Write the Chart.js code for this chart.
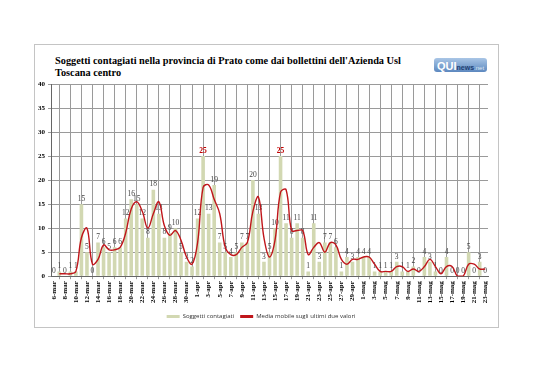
<!DOCTYPE html>
<html>
<head>
<meta charset="utf-8">
<script src="https://cdn.jsdelivr.net/npm/chart.js@4.4.1/dist/chart.umd.min.js"></script>
<style>
  html, body { margin: 0; padding: 0; background: #fff; }
  body { width: 538px; height: 380px; position: relative; overflow: hidden; }
  #frame { position: absolute; left: 34px; top: 44px; width: 463px; height: 282px; border: 1px solid #c4c4c4; }
  #title { position: absolute; left: 55px; top: 55px; font: bold 10.3px "Liberation Serif", serif; line-height: 11.5px; color: #000; white-space: nowrap; }
  #logo { position: absolute; left: 434px; top: 58px; width: 53px; height: 14px; border-radius: 3px;
          background: linear-gradient(#a9c6e6, #5c88bf); font-family: "Liberation Sans", sans-serif; line-height: 14px; white-space: nowrap; }
  #logo .q { color: #fff; font-weight: bold; font-size: 11px; margin-left: 3px; }
  #logo .n { color: #1d3f73; font-weight: bold; font-size: 7px; }
  #logo .t { color: #dfe9f5; font-size: 6px; }
  canvas { position: absolute; left: 0; top: 0; }
</style>
</head>
<body>
<div id="frame"></div>
<div id="title">Soggetti contagiati nella provincia di Prato come dai bollettini dell'Azienda Usl<br>Toscana centro</div>
<div id="logo"><span class="q">QUI</span><span class="n">news</span><span class="t">.net</span></div>
<canvas id="chart" width="538" height="380"></canvas>
<script>
const days = [
  '6-mar','7-mar','8-mar','9-mar','10-mar','11-mar','12-mar','13-mar','14-mar','15-mar',
  '16-mar','17-mar','18-mar','19-mar','20-mar','21-mar','22-mar','23-mar','24-mar','25-mar',
  '26-mar','27-mar','28-mar','29-mar','30-mar','31-mar','1-apr','2-apr','3-apr','4-apr',
  '5-apr','6-apr','7-apr','8-apr','9-apr','10-apr','11-apr','12-apr','13-apr','14-apr',
  '15-apr','16-apr','17-apr','18-apr','19-apr','20-apr','21-apr','22-apr','23-apr','24-apr',
  '25-apr','26-apr','27-apr','28-apr','29-apr','30-apr','1-mag','2-mag','3-mag','4-mag',
  '5-mag','6-mag','7-mag','8-mag','9-mag','10-mag','11-mag','12-mag','13-mag','14-mag',
  '15-mag','16-mag','17-mag','18-mag','19-mag','20-mag','21-mag','22-mag','23-mag'
];

const contagiati = [
  0, 1, 0, 1, 1, 15, 5, 0, 7, 6,
  5, 6, 6, 12, 16, 15, 12, 8, 18, 13,
  8, 9, 10, 5, 3, 2, 12, 25, 13, 19,
  7, 5, 4, 5, 7, 7, 20, 13, 3, 5,
  10, 25, 11, 8, 11, 8, 1, 11, 3, 7,
  7, 6, 1, 4, 3, 4, 4, 4, 1, 1,
  1, 1, 3, 1, 1, 2, 0, 4, 3, 1,
  0, 4, 0, 0, 0, 5, 0, 3, 0
];

const mediaMobile = [
  null, 0.5, 0.5, 0.5, 1, 8, 10, 2.5, 3.5, 6.5,
  5.5, 5.5, 6, 9, 14, 15.5, 13.5, 10, 13, 15.5,
  10.5, 8.5, 9.5, 7.5, 4, 2.5, 7, 18.5, 19, 16,
  13, 6, 4.5, 4.5, 6, 7, 13.5, 16.5, 8, 4,
  7.5, 17.5, 18, 9.5, 9.5, 9.5, 4.5, 6, 7, 5,
  7, 6.5, 3.5, 2.5, 3.5, 3.5, 4, 4, 2.5, 1,
  1, 1, 2, 2, 1, 1.5, 1, 2, 3.5, 2,
  0.5, 2, 2, 0, 0, 2.5, 2.5, 1.5, 1.5
];

const yTicks = [0, 5, 10, 15, 20, 25, 30, 35, 40];

const tickFont = { family: 'Liberation Serif', size: 7, weight: 'bold' };

// numbers above the bars, drawn before the line so it passes over them
const barLabels = {
  id: 'barLabels',
  afterDatasetDraw(chart, args) {
    if (args.meta.type !== 'bar') return;
    const ctx = chart.ctx;
    ctx.save();
    ctx.textAlign = 'center';
    ctx.textBaseline = 'bottom';
    args.meta.data.forEach((bar, i) => {
      const v = contagiati[i];
      if (v >= 25) {
        ctx.fillStyle = '#c00000';
        ctx.font = 'bold 7.5px "Liberation Serif"';
      } else {
        ctx.fillStyle = '#444';
        ctx.font = '7.5px "Liberation Serif"';
      }
      ctx.fillText(String(v), bar.x, bar.y - 1.5);
    });
    ctx.restore();
  }
};

new Chart(document.getElementById('chart'), {
  type: 'bar',
  data: {
    labels: days,
    datasets: [
      {
        type: 'line',
        label: 'Media mobile sugli ultimi due valori',
        data: mediaMobile,
        borderColor: '#c0161b',
        backgroundColor: '#c0161b',
        borderWidth: 1.4,
        pointRadius: 0,
        tension: 0.4,
        order: 0
      },
      {
        type: 'bar',
        label: 'Soggetti contagiati',
        data: contagiati,
        backgroundColor: '#d2d8b2',
        barPercentage: 0.65,
        categoryPercentage: 1,
        order: 1
      }
    ]
  },
  options: {
    responsive: false,
    animation: false,
    layout: { padding: { left: 34, top: 84, right: 50, bottom: 50.4 } },
    scales: {
      x: {
        grid: { color: '#9a9a9a', tickLength: 3 },
        border: { color: '#666' },
        ticks: {
          font: tickFont,
          color: '#000',
          autoSkip: false,
          minRotation: 90,
          maxRotation: 90,
          padding: 2,
          callback: function (val, i) { return i % 2 === 0 ? days[i] : null; }
        },
        afterFit(scale) { scale.height = 31.4; }
      },
      y: {
        min: 0,
        max: 40,
        afterBuildTicks(scale) { scale.ticks = yTicks.map(v => ({ value: v })); },
        grid: { color: '#9a9a9a', tickLength: 3 },
        border: { color: '#666' },
        ticks: { font: tickFont, color: '#000', padding: 3 },
        afterFit(scale) { scale.width = 17; }
      }
    },
    plugins: {
      tooltip: { enabled: false },
      legend: {
        position: 'bottom',
        reverse: true,
        labels: {
          boxWidth: 13,
          boxHeight: 3,
          padding: 6,
          color: '#333',
          font: { family: 'Open Sans', size: 6 },
          generateLabels(chart) {
            return Chart.defaults.plugins.legend.labels.generateLabels(chart)
              .map(l => Object.assign(l, { lineWidth: 0 }));
          }
        }
      }
    }
  },
  plugins: [barLabels]
});
</script>
</body>
</html>
